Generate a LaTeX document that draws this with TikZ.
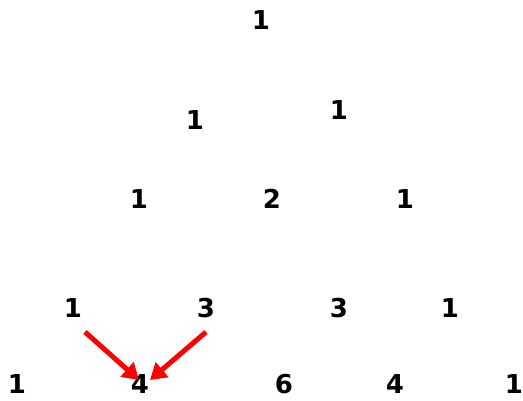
\documentclass[tikz,border=0pt]{standalone}
\usepackage{fontspec}
\setmainfont{DejaVu Sans}
\usetikzlibrary{arrows.meta}
\begin{document}
\begin{tikzpicture}[x=1pt,y=-1pt,
  num/.style={font=\fontsize{26}{26}\selectfont\bfseries, inner sep=0pt},
  redarrow/.style={draw=red, line width=5pt, -{Triangle[length=16pt,width=19pt]}}]
\useasboundingbox (0,0) rectangle (523,400);
\node[num] (a0) at (261,20) {1};
\node[num] (b0) at (195,120) {1};
\node[num] (b1) at (339,110) {1};
\node[num] (c0) at (139,199) {1};
\node[num] (c1) at (272,199) {2};
\node[num] (c2) at (405,199) {1};
\node[num] (d0) at (73,308) {1};
\node[num] (d1) at (206,308) {3};
\node[num] (d2) at (339,308) {3};
\node[num] (d3) at (450,308) {1};
\node[num] (e0) at (17,384) {1};
\node[num] (e1) at (140,384) {4};
\node[num] (e2) at (284,384) {6};
\node[num] (e3) at (395,384) {4};
\node[num] (e4) at (514,384) {1};
\coordinate (s1) at (85,332);
\coordinate (t1) at (139,380);
\coordinate (s2) at (206,332);
\coordinate (t2) at (150,380);
\draw[redarrow] (s1) -- (t1);
\draw[redarrow] (s2) -- (t2);
\end{tikzpicture}
\end{document}
